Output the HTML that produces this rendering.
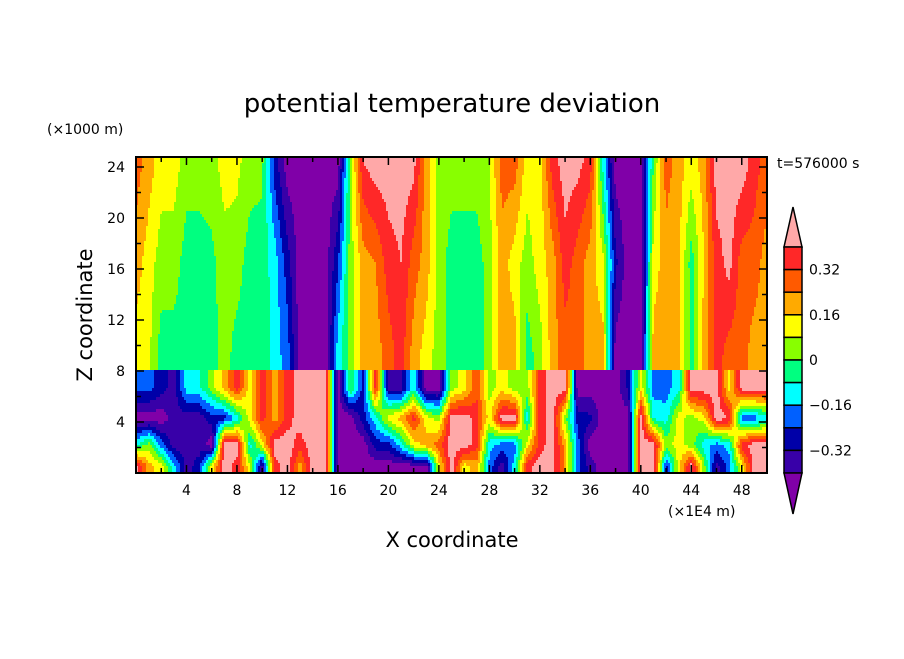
<!DOCTYPE html>
<html><head><meta charset="utf-8">
<style>
html,body{margin:0;padding:0;background:#fff;}
svg text{font-family:"DejaVu Sans","Liberation Sans",sans-serif;fill:#000;}
</style></head>
<body>
<svg id="chart" width="904" height="654" viewBox="0 0 904 654" xmlns="http://www.w3.org/2000/svg">
<rect x="0" y="0" width="904" height="654" fill="#fff"/>
<text x="452" y="112" font-size="26" text-anchor="middle">potential temperature deviation</text>
<text x="47" y="134" font-size="14">(×1000 m)</text>
<text x="777" y="168" font-size="14">t=576000 s</text>
<text x="668" y="516" font-size="14">(×1E4 m)</text>
<text x="452" y="547" font-size="21" text-anchor="middle">X coordinate</text>
<text x="0" y="0" font-size="21" text-anchor="middle" transform="translate(92,315) rotate(-90)">Z coordinate</text>
<g id="field"></g>
<g id="axes"></g>
<g id="cbar"></g>
</svg>
<script>
// contour levels and colors
const levels = [-0.40,-0.32,-0.24,-0.16,-0.08,0,0.08,0.16,0.24,0.32,0.40];
const colors = ["#8000a8","#3800a8","#0000a8","#0060ff","#00ffff","#00ff80","#88ff00","#ffff00","#ffaa00","#ff5a00","#ff2828","#ffa8a8"];
const cbarLabels = ["0.32","0.16","0","-0.16","-0.32"];
const xTickLabels = [4,8,12,16,20,24,28,32,36,40,44,48];
const yTickLabels = [4,8,12,16,20,24];
// upper layer: value per x unit (0..50) at z=9.2, 16.5, 24.4
const upperBot = [.12,.1,-.04,-.04,-.04,-.04,-.04,.04,-.04,-.04,0,-.12,-.2,-.45,-.45,-.45,-.12,.04,.2,.2,.28,.36,.2,.12,.04,-.04,-.04,-.04,.04,.2,.2,-.04,.04,.2,.28,.28,.2,.2,-.45,-.45,-.45,.2,.2,.2,-.04,.2,.36,.28,.28,.2,.2];
const upperMid = [.2,.12,.04,.04,-.04,-.04,-.02,.04,.04,-.04,-.04,-.12,-.28,-.45,-.45,-.45,-.25,.04,.2,.24,.36,.4,.28,.2,.05,-.04,-.04,-.04,.04,.2,.12,.04,.12,.2,.36,.28,.2,.1,-.3,-.45,-.45,.12,.2,.18,-.04,.16,.36,.43,.28,.28,.2];
const upperTop = [.28,.2,.12,.12,.04,.04,.04,.12,.1,.04,.02,-.28,-.45,-.45,-.45,-.45,-.45,.04,.4,.45,.45,.45,.43,.2,.05,.04,.04,.04,.08,.28,.28,.12,.12,.36,.45,.43,.36,-.1,-.45,-.45,-.45,0,.28,.2,.12,.2,.45,.45,.45,.36,.28];
// lower layer: value per x unit at z=6.7, 4.3, 2.2, 0.5
const lowZ7 = [-.2,-.2,-.28,-.36,-.12,-.1,.04,.2,.36,.12,.36,.2,.36,.45,.45,.45,-.45,0,-.28,.36,-.36,-.36,-.1,-.45,-.45,.04,.12,.3,.04,.12,.04,.04,.36,.45,.45,-.45,-.45,-.45,-.45,-.3,.12,-.2,-.2,-.12,.45,.45,.45,.12,.45,.45,.45];
const lowZ5 = [-.45,-.45,-.45,-.36,-.36,-.36,-.28,-.28,-.12,.12,.36,.2,.36,.45,.45,.45,-.45,-.45,-.28,-.1,.12,.2,.36,.12,.04,.45,.45,.36,.12,.45,.45,-.12,.36,.45,.04,-.28,-.3,-.45,-.45,-.45,.45,-.1,-.12,.12,.04,.12,.45,.4,-.2,-.2,-.12];
const lowZ3 = [-.1,.04,-.2,-.36,-.36,-.36,-.45,.45,.45,-.12,.12,.45,.45,.36,.45,.45,-.45,-.45,-.45,-.28,-.28,-.12,.12,.2,.28,.45,.45,.36,-.12,-.2,-.2,.12,.36,.45,.2,-.2,-.45,-.45,-.45,-.45,.45,.45,.04,.12,.04,-.12,-.2,-.12,.36,.45,.45];
const lowZ1 = [.45,.2,.12,-.12,-.36,-.28,.12,.45,.36,.12,-.4,.36,.45,.2,.45,.45,-.45,-.45,-.45,-.45,-.45,-.45,-.45,-.45,.12,.45,.12,.2,-.2,-.36,-.12,.36,.45,.45,.2,-.2,-.36,-.45,-.45,-.45,.45,.45,-.28,.12,.45,.04,-.36,-.2,.12,.45,.45];

const X0=136, X1=767, Y0=473, YT=157;
const xs = u => X0 + u*(X1-X0)/50;
const ys = z => Y0 - z*12.75;
const NS="http://www.w3.org/2000/svg";
function colorOf(v){let i=0;while(i<levels.length && v>=levels[i]) i++;return colors[i];}
function lerp(a,b,t){return a+(b-a)*t;}
function colInterp(arr,u){
  const i=Math.max(0,Math.min(arr.length-2,Math.floor(u)));const t=Math.max(0,Math.min(1,u-i));return lerp(arr[i],arr[i+1],t);}
function profile(zs,vs,z){
  if(z<=zs[0]) return vs[0];
  for(let k=0;k<zs.length-1;k++){ if(z<=zs[k+1]) return lerp(vs[k],vs[k+1],(z-zs[k])/(zs[k+1]-zs[k])); }
  return vs[vs.length-1];
}
function value(u,z){
  if(z>=8){
    return profile([9.2,16.5,24.4],[colInterp(upperBot,u),colInterp(upperMid,u),colInterp(upperTop,u)],z);
  }
  return profile([0.5,2.2,4.3,6.7],[colInterp(lowZ1,u),colInterp(lowZ3,u),colInterp(lowZ5,u),colInterp(lowZ7,u)],z);
}
const field=document.getElementById('field');
const dx=2, dy=3;
function addRun(x0,x1,y,h,c){
  const r=document.createElementNS(NS,'rect');
  r.setAttribute('x',x0);r.setAttribute('y',y);r.setAttribute('width',x1-x0);r.setAttribute('height',h+0.5);r.setAttribute('fill',c);
  
  
  field.appendChild(r);
}
for(let py=YT; py<Y0; py+=dy){
  const h=Math.min(dy,Y0-py); const z=(Y0-(py+h/2))/12.75;
  let runStart=X0, runCol=null;
  for(let px=X0; px<X1; px+=dx){
    const u=(Math.min(px+dx/2,X1)-X0)*50/(X1-X0);
    const c=colorOf(value(u,z));
    if(c!==runCol){
      if(runCol!==null) addRun(runStart,px,py,h,runCol);
      runStart=px; runCol=c;
    }
  }
  addRun(runStart,X1,py,h,runCol);
}
const axes=document.getElementById('axes');
function el(tag,attrs,parent,text){const e=document.createElementNS(NS,tag);for(const k in attrs)e.setAttribute(k,attrs[k]);if(text!==undefined)e.textContent=text;parent.appendChild(e);return e;}
const frame=el('rect',{x:X0,y:YT,width:X1-X0,height:Y0-YT,fill:'none',stroke:'#000','stroke-width':2},axes);


for(let u=2; u<50; u+=2){
  const x=xs(u), L=(u%4===0)?8:5;
  const t1=el('line',{x1:x,y1:Y0,x2:x,y2:Y0-L,stroke:'#000','stroke-width':1.5},axes);
  
  
  const t2=el('line',{x1:x,y1:YT,x2:x,y2:YT+L,stroke:'#000','stroke-width':1.5},axes);
  
  
}
for(let z=2; z<=24; z+=2){
  const y=ys(z), L=(z%4===0)?8:5;
  const t1=el('line',{x1:X0,y1:y,x2:X0+L,y2:y,stroke:'#000','stroke-width':1.5},axes);
  
  
  const t2=el('line',{x1:X1,y1:y,x2:X1-L,y2:y,stroke:'#000','stroke-width':1.5},axes);
  
  
}
xTickLabels.forEach(v=>{
  const t=el('text',{x:xs(v),y:Y0+22,'font-size':14,'text-anchor':'middle'},axes,String(v));
  
  
});
yTickLabels.forEach(v=>{
  const t=el('text',{x:X0-11,y:ys(v)+5,'font-size':14,'text-anchor':'end'},axes,String(v));
  
  
});
// colorbar
const cb=document.getElementById('cbar');
const CX0=784, CX1=802, CT=247, CB=473, nb=10, bh=(CB-CT)/nb;
const up=el('polygon',{points:`${CX0},${CT} ${CX1},${CT} ${(CX0+CX1)/2},${207}`,fill:colors[11],stroke:'#000','stroke-width':1.5},cb);


for(let i=0;i<nb;i++){
  const r=el('rect',{x:CX0,y:CT+i*bh,width:CX1-CX0,height:bh,fill:colors[10-i],stroke:'#000','stroke-width':1.5},cb);
  
  
}
const dn=el('polygon',{points:`${CX0},${CB} ${CX1},${CB} ${(CX0+CX1)/2},${514}`,fill:colors[0],stroke:'#000','stroke-width':1.5},cb);


cbarLabels.forEach((s,i)=>{
  const t=el('text',{x:809,y:CT+(1+2*i)*bh+5,'font-size':14},cb,s.replace('-','\u2212'));
  
  
});
</script>
</body></html>
